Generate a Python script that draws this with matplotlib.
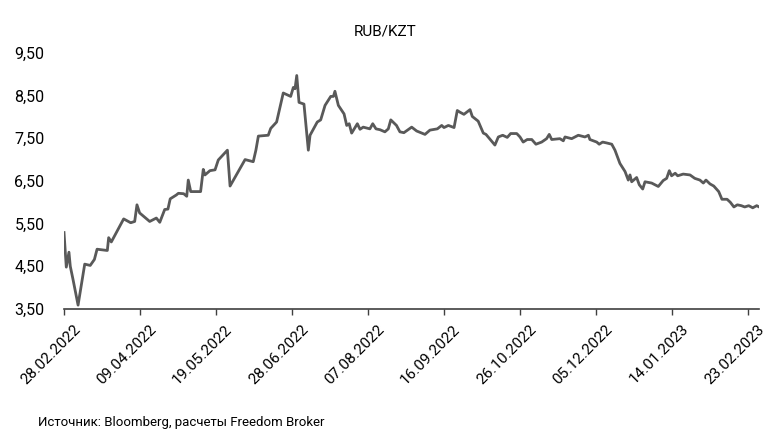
import datetime as dt
import matplotlib
matplotlib.use('Agg')
import matplotlib.pyplot as plt
import matplotlib.dates as mdates
from matplotlib.ticker import FuncFormatter, FixedLocator, NullFormatter
from matplotlib.transforms import ScaledTranslation

plt.rcParams['font.family'] = ['Roboto', 'DejaVu Sans']

# данные: смещение в днях от 28.02.2022 и курс RUB/KZT
start = dt.datetime(2022, 2, 28)
days = [0, 1.2, 2.6, 3.3, 4.7, 7.4, 10.9, 13.8, 16, 17.4, 22.8, 23.5, 24.9, 28.4, 31.4,
        35.1, 37.2, 38.4, 39.8, 45.1, 48.6, 50.4, 53, 54.7, 55.9, 59.1, 60.2, 63, 64.6,
        65.4, 66.7, 71.9, 73.3, 74.2, 76.8, 79.5, 81.2, 86, 87.4, 95.3, 99.6, 101, 102.3,
        107.5, 108.8, 111.9, 115.4, 119.3, 120.7, 121.6, 122.5, 123.7, 126.3, 128.6, 129.5,
        133.3, 135.1, 137.4, 140.4, 141.8, 142.6, 144.4, 147.4, 148.8, 150.1, 151.4, 154.4,
        155.8, 157.5, 161, 162.5, 164.2, 166.3, 168.9, 170.7, 172, 175, 176.8, 178.9, 183,
        185.6, 190, 192.6, 196.5, 198.8, 200, 202.3, 205.3, 207, 208.4, 210.5, 213.7, 214.9,
        218, 220.7, 222.1, 226.8, 228.6, 230.9, 233.3, 235.1, 238.3, 240, 241.7, 243.8,
        246.2, 248.4, 251.4, 254, 255.4, 256.7, 261, 262.8, 263.7, 267.2, 270.7, 274.2, 276,
        276.8, 280.4, 281.7, 283.5, 285.6, 288.3, 290, 292.6, 295.3, 297, 297.9, 298.8,
        301.4, 302.8, 304.6, 305.8, 309.3, 312.8, 315.4, 317.2, 318.6, 319.8, 321.7, 323,
        325.9, 329.5, 332, 334.7, 336.5, 337.9, 340, 342, 344.6, 346.3, 349, 350.7, 352.6,
        354.4, 356.5, 358.3, 360.4, 362.5, 364.6, 365.9]
rate = [5.29, 4.48, 4.83, 4.50, 4.20, 3.59, 4.55, 4.52, 4.66, 4.90, 4.87, 5.17, 5.07, 5.36, 5.61,
        5.52, 5.55, 5.94, 5.75, 5.55, 5.63, 5.53, 5.83, 5.84, 6.08, 6.17, 6.21, 6.20, 6.14,
        6.52, 6.25, 6.25, 6.77, 6.64, 6.74, 6.76, 6.99, 7.22, 6.38, 7.00, 6.95, 7.22, 7.55,
        7.57, 7.73, 7.88, 8.56, 8.48, 8.69, 8.66, 8.97, 8.34, 8.30, 7.22, 7.57,
        7.88, 7.93, 8.27, 8.48, 8.48, 8.60, 8.27, 8.07, 7.80, 7.84, 7.62, 7.84,
        7.71, 7.76, 7.72, 7.84, 7.72, 7.70, 7.65, 7.72, 7.93, 7.80, 7.65, 7.63, 7.76,
        7.67, 7.59, 7.69, 7.72, 7.80, 7.75, 7.80, 7.75, 8.15, 8.11, 8.06, 8.17, 8.01,
        7.90, 7.62, 7.59, 7.34, 7.53, 7.57, 7.52, 7.61, 7.61, 7.53, 7.41, 7.47,
        7.47, 7.36, 7.41, 7.49, 7.59, 7.47, 7.49, 7.44, 7.53, 7.49, 7.57, 7.53, 7.57,
        7.47, 7.41, 7.36, 7.41, 7.39, 7.36, 7.22, 6.91, 6.72, 6.52, 6.64, 6.48,
        6.58, 6.41, 6.31, 6.48, 6.45, 6.37, 6.51, 6.56, 6.74, 6.62, 6.68, 6.62,
        6.66, 6.64, 6.56, 6.52, 6.45, 6.52, 6.43, 6.38, 6.25, 6.07, 6.07, 6.00, 5.89,
        5.94, 5.92, 5.89, 5.92, 5.87, 5.92, 5.89]
tick_labels = ['28.02.2022', '09.04.2022', '19.05.2022', '28.06.2022', '07.08.2022',
               '16.09.2022', '26.10.2022', '05.12.2022', '14.01.2023', '23.02.2023']
y_ticks = [3.5, 4.5, 5.5, 6.5, 7.5, 8.5, 9.5]

dates = [start + dt.timedelta(days=d) for d in days]
tick_dates = [dt.datetime.strptime(s, '%d.%m.%Y') for s in tick_labels]

fig = plt.figure(figsize=(7.74, 4.37), dpi=100)
ax = fig.add_axes([0.0827, 0.293, 0.8979, 0.586])

ax.plot(dates, rate, color='#595959', linewidth=2.0)

ax.set_xlim(start, start + dt.timedelta(days=365.8))
ax.set_ylim(3.5, 9.5)
ax.xaxis.set_major_locator(FixedLocator(mdates.date2num(tick_dates)))
ax.xaxis.set_major_formatter(NullFormatter())
# подписи дат: наклон 45°, сдвинуты вправо-вниз от засечки, как в оригинале
lbl_tr = ax.get_xaxis_transform() + ScaledTranslation(0.14, -0.18, fig.dpi_scale_trans)
for d, s in zip(tick_dates, tick_labels):
    ax.text(d, 0, s, transform=lbl_tr, rotation=45, ha='right', va='center',
            rotation_mode='anchor', fontsize=11, clip_on=False)
ax.set_yticks(y_ticks)
ax.yaxis.set_major_formatter(FuncFormatter(lambda v, p: f'{v:.2f}'.replace('.', ',')))
ax.tick_params(axis='y', length=0, pad=14, labelsize=11.5)
ax.tick_params(axis='x', length=4, width=1, color='#404040')

for s in ['top', 'right', 'left']:
    ax.spines[s].set_visible(False)
ax.spines['bottom'].set_color('#404040')
ax.spines['bottom'].set_linewidth(1.2)

fig.text(0.497, 0.929, 'RUB/KZT', ha='center', va='center', fontsize=11)
fig.text(0.049, 0.034, 'Источник: Bloomberg, расчеты Freedom Broker', ha='left', va='center',
         fontsize=9.5)

fig.savefig('out.png', dpi=100)
